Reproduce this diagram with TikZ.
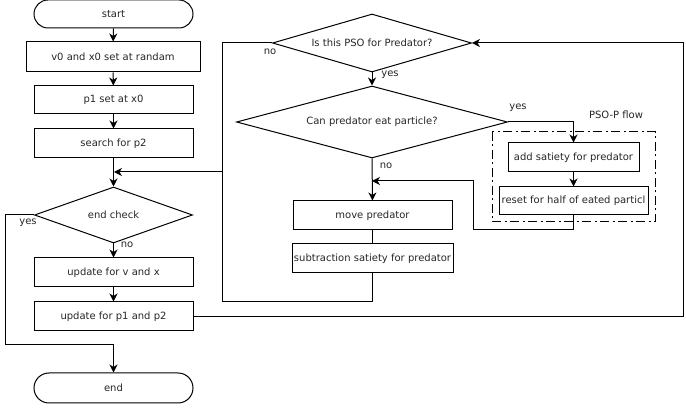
\documentclass[tikz,border=0pt]{standalone}
\usepackage{fontspec}
\setmainfont{DejaVu Sans}
\usetikzlibrary{shapes.geometric,shapes.misc,arrows.meta}
\begin{document}
\begin{tikzpicture}[x=1pt,y=-1pt,
  line width=1pt,
  every node/.style={font=\fontsize{10}{12}\selectfont, text=black!85},
  procbox/.style={draw,rectangle,inner sep=0pt},
  termbox/.style={draw,rounded rectangle,inner sep=0pt},
  decision/.style={draw,diamond,aspect=4,inner sep=0pt},
  flow/.style={-{Stealth[length=8pt,width=8pt,inset=2.5pt]}},
  lbl/.style={inner sep=0pt},
  groupframe/.style={dash pattern=on 9pt off 3.5pt on 2pt off 3.5pt}]
\useasboundingbox (0,0) rectangle (686,411);

% main loop column
\node[termbox,minimum width=159pt,minimum height=28pt] (start) at (113.5,14) {start};
\node[procbox,minimum width=174pt,minimum height=30pt] (b1) at (113,57) {v0 and x0 set at randam};
\node[procbox,minimum width=159pt,minimum height=28pt] (b2) at (113.5,100) {p1 set at x0};
\node[procbox,minimum width=159pt,minimum height=29pt] (b3) at (113.5,143.5) {search for p2};
\node[decision,minimum width=158pt,minimum height=56pt] (ec) at (113.5,215) {end check};
\node[procbox,minimum width=159pt,minimum height=29pt] (b4) at (113.5,272.5) {update for v and x};
\node[procbox,minimum width=159pt,minimum height=29pt] (b5) at (113.5,316.5) {update for p1 and p2};
\node[termbox,minimum width=159pt,minimum height=30pt] (end) at (113.5,388) {end};

% predator branch
\node[decision,minimum width=199pt,minimum height=58pt] (d1) at (372,43) {Is this PSO for Predator?};
\node[decision,minimum width=271pt,minimum height=72pt] (d2) at (372,122) {Can predator eat particle?};
\node[procbox,minimum width=159pt,minimum height=29pt] (mp) at (372.5,215.5) {move predator};
\node[procbox,minimum width=161pt,minimum height=29pt] (sub) at (372.5,258.5) {subtraction satiety for predator};

% PSO-P flow group
\draw[groupframe] (492,132) rectangle (655,222);
\node[lbl] (grp) at (616,115) {PSO-P flow};
\node[procbox,minimum width=131pt,minimum height=29pt] (add) at (573.5,157.5) {add satiety for predator};
\node[procbox,minimum width=149pt,minimum height=28pt] (rst) at (573.5,201) {reset for half of eated particl};

% routing points
\coordinate (left) at (5,345);
\coordinate (j0) at (222,172);
\coordinate (j1) at (114,172);
\coordinate (c1) at (222,302);
\coordinate (r1) at (683,43);
\coordinate (k1) at (473,230);
\coordinate (k2) at (473,181);
\coordinate (k3) at (372,181);

% connectors
\draw[flow] (start) -- (b1);
\draw[flow] (b1) -- (b2);
\draw[flow] (b2) -- (b3);
\draw[flow] (b3) -- (ec);
\draw[flow] (j0) -- (j1);
\draw[flow] (ec) -- (b4);
\draw[flow] (b4) -- (b5);
\draw[flow] (ec.west) -| (left) -| (end.north);
\draw[flow] (b5.east) -| (r1) -- (d1.east);
\draw (d1.west) -| (c1);
\draw (sub.south) |- (c1);
\draw[flow] (d1.south) -- (d2.north);
\draw[flow] (d2.east) -| (add.north);
\draw[flow] (d2.south) -- (mp.north);
\draw (mp.south) -- (sub.north);
\draw[flow] (add.south) -- (rst.north);
\draw[flow] (rst.south) |- (k1) -- (k2) -- (k3);

% branch labels
\node[lbl] (l1) at (28,223) {yes};
\node[lbl] (l2) at (127,245) {no};
\node[lbl] (l3) at (270,52) {no};
\node[lbl] (l4) at (390,75) {yes};
\node[lbl] (l5) at (518,108) {yes};
\node[lbl] (l6) at (386,166) {no};
\end{tikzpicture}
\end{document}
